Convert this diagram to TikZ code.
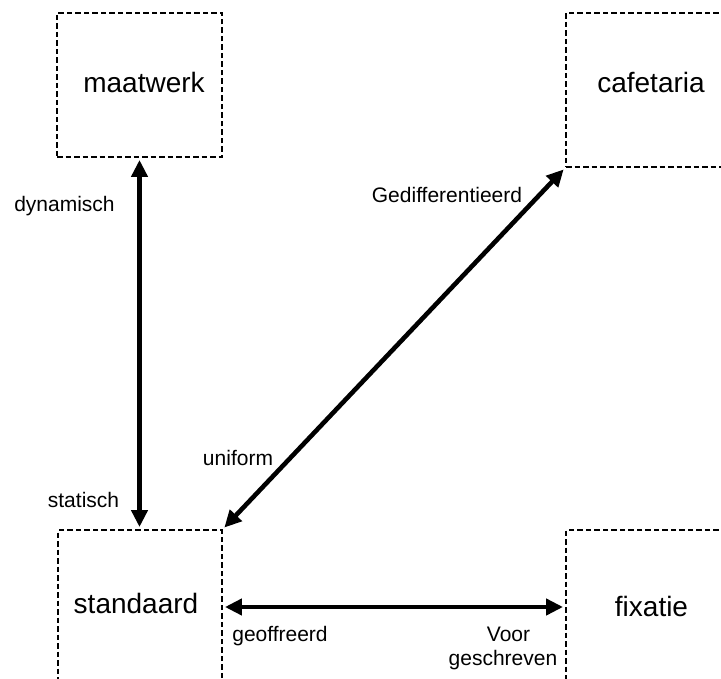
\documentclass[tikz,border=0pt]{standalone}
\usepackage{fontspec}
\setmainfont{Liberation Sans}
\usetikzlibrary{arrows.meta}
\tikzset{
  dbox/.style={draw, dash pattern=on 5.5pt off 3pt, line width=1.9pt, inner sep=0pt},
  boxlbl/.style={font=\fontsize{28}{34}\selectfont, anchor=base, inner sep=0pt},
  lbl/.style={font=\fontsize{21}{25}\selectfont, anchor=base, inner sep=0pt},
  link/.style={<->, line width=4.6pt, shorten <=2pt, shorten >=2pt}
}
\begin{document}
\begin{tikzpicture}[x=1pt,y=-1pt,>={Triangle[length=17pt,width=16pt]}]
  \useasboundingbox (0,0) rectangle (721,679);
  \clip (0,0) rectangle (721,679);
  % boxes
  \node[dbox, minimum width=165pt, minimum height=144pt] (mBox) at (139.5,85) {};
  \node[dbox, minimum width=165pt, minimum height=154pt] (cBox) at (648.5,90) {};
  \node[dbox, minimum width=164pt, minimum height=154pt] (sBox) at (140,607) {};
  \node[dbox, minimum width=165pt, minimum height=154pt] (fBox) at (648.5,607) {};
  \node[boxlbl] (maatwerk) at (144,93) {maatwerk};
  \node[boxlbl] (cafetaria) at (651,93) {cafetaria};
  \node[boxlbl] (standaard) at (136,613) {standaard};
  \node[boxlbl] (fixatie) at (651.5,616) {fixatie};
  % arrows
  \draw[link] (mBox.south) -- (mBox.south |- sBox.north);
  \draw[link] (sBox.north east) -- (cBox.south west);
  \draw[link] (sBox.east) -- (fBox.west);
  % labels
  \node[lbl] (dynamisch) at (64.5,212) {dynamisch};
  \node[lbl] (statisch) at (83.5,507) {statisch};
  \node[lbl] (uniform) at (238,465) {uniform};
  \node[lbl] (gedif) at (447,203) {Gedifferentieerd};
  \node[lbl] (geoffreerd) at (280,641) {geoffreerd};
  \node[lbl] (voor) at (508.5,641) {Voor};
  \node[lbl] (geschreven) at (503,665) {geschreven};
\end{tikzpicture}
\end{document}
